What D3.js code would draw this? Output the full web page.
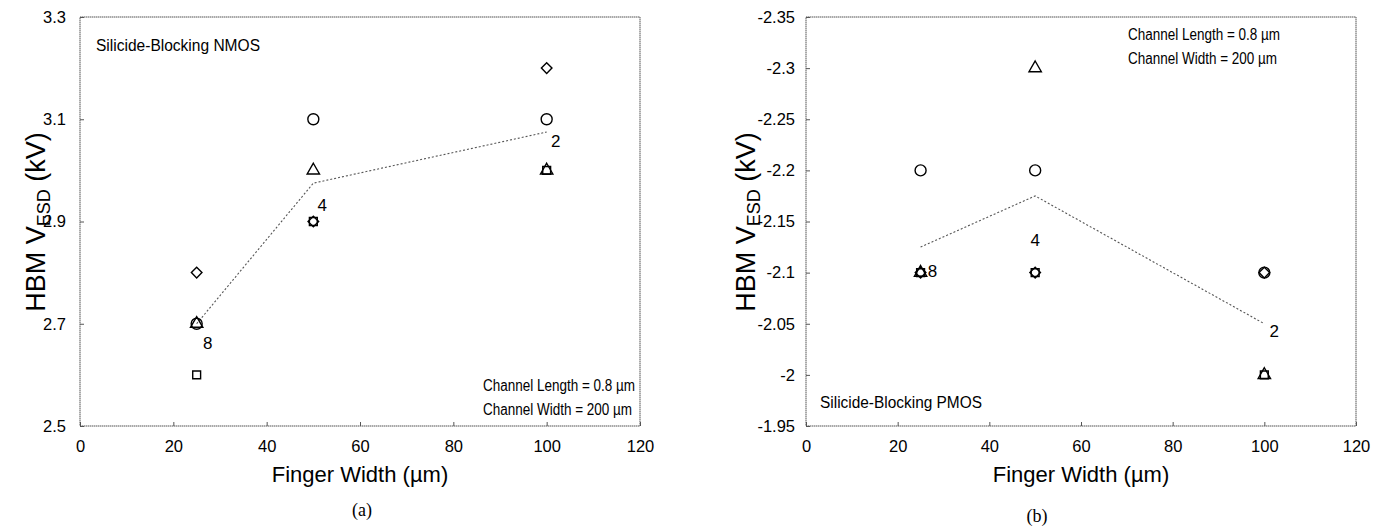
<!DOCTYPE html>
<html><head><meta charset="utf-8">
<script src="https://cdn.jsdelivr.net/npm/d3@7"></script>
<style>
body{margin:0;background:#fff;}
text{font-family:"Liberation Sans",Arial,sans-serif;fill:#000;}
</style></head>
<body><svg id="c" width="1382" height="531"></svg>
<script>
// ---- data ----
const fingerWidths = [25, 50, 100];
const fingerCounts = ["8", "4", "2"];
const xTicks = [0, 20, 40, 60, 80, 100, 120];

const nmosCircle   = [2.7, 3.1, 3.1];
const nmosTriangle = [2.7, 3.0, 3.0];
const nmosDiamond  = [2.8, 2.9, 3.2];
const nmosSquare   = [2.6, 2.9, 3.0];
const nmosMean     = [2.7, 2.975, 3.075];
const nmosYTicks   = [2.5, 2.7, 2.9, 3.1, 3.3];

const pmosCircle   = [-2.2, -2.2, -2.1];
const pmosTriangle = [-2.1, -2.3, -2.0];
const pmosDiamond  = [-2.1, -2.1, -2.1];
const pmosSquare   = [-2.1, -2.1, -2.0];
const pmosMean     = [-2.125, -2.175, -2.05];
const pmosYTicks   = [-1.95, -2, -2.05, -2.1, -2.15, -2.2, -2.25, -2.3, -2.35];

// ---- drawing ----
const svg = d3.select("#c");
svg.append("rect").attr("width",1382).attr("height",531).attr("fill","#fff");

function panel(cfg){
  const x = d3.scaleLinear().domain([0,120]).range([cfg.x0, cfg.x1]);
  const y = d3.scaleLinear().domain(cfg.yDomain).range([426, 17]);
  const g = svg.append("g");
  g.append("rect").attr("x",cfg.x0).attr("y",17).attr("width",cfg.x1-cfg.x0).attr("height",409)
    .attr("fill","none").attr("stroke","#555").attr("stroke-width",1).attr("stroke-dasharray","1.5,0.5");
  const ya = g.append("g").attr("transform",`translate(${cfg.x0},0)`)
    .call(d3.axisLeft(y).tickValues(cfg.yTicks).tickSize(-4).tickPadding(cfg.yPad).tickFormat(d=>String(d)));
  const xa = g.append("g").attr("transform",`translate(0,426)`)
    .call(d3.axisBottom(x).tickValues(xTicks).tickSize(-4).tickPadding(14).tickFormat(d=>String(d)));
  [ya,xa].forEach(a=>{
    a.select(".domain").remove();
    a.selectAll(".tick line").attr("stroke","#555");
    a.selectAll(".tick text").attr("font-size",16.5).attr("font-family","Liberation Sans, Arial, sans-serif").attr("fill","#000");
  });
  g.append("path").datum(cfg.mean.map((v,i)=>[fingerWidths[i],v]))
    .attr("d", d3.line().x(d=>x(d[0])).y(d=>y(d[1])))
    .attr("fill","none").attr("stroke","#555").attr("stroke-width",1.1).attr("stroke-dasharray","2,2");
  const series = [
    {vals:cfg.square,  sym:d3.symbolSquare,  size:62,  rot:0},
    {vals:cfg.diamond, sym:d3.symbolSquare,  size:56,  rot:45},
    {vals:cfg.triangle,sym:d3.symbolTriangle,size:66,  rot:0},
    {vals:cfg.circle,  sym:d3.symbolCircle,  size:95,  rot:0}
  ];
  series.forEach(s=>{
    g.selectAll(null).data(s.vals.map((v,i)=>[fingerWidths[i],v])).enter().append("path")
      .attr("d", d3.symbol().type(s.sym).size(s.size))
      .attr("transform", d=>`translate(${x(d[0])},${y(d[1])}) rotate(${s.rot})`)
      .attr("fill","none").attr("stroke","#000").attr("stroke-width",1.4);
  });
  g.selectAll(null).data(cfg.mean.map((v,i)=>({x:fingerWidths[i],v,lab:fingerCounts[i],o:cfg.labelOff[i]}))).enter()
    .append("text").attr("x",d=>x(d.x)+d.o[0]).attr("y",d=>y(d.v)+d.o[1])
    .attr("font-size",17).attr("text-anchor","middle").attr("dominant-baseline","middle").text(d=>d.lab);
  cfg.notes.forEach(n=>{
    const t = g.append("text").attr("x",n[0]).attr("y",n[1]).attr("font-size",16).text(n[2]);
    if (n[3]) t.attr("textLength",n[3]).attr("lengthAdjust","spacingAndGlyphs");
  });
  const cx = (cfg.x0+cfg.x1)/2;
  g.append("text").attr("x",cx).attr("y",482).attr("text-anchor","middle").attr("font-size",22).text("Finger Width (\u00b5m)");
  const yt = g.append("text").attr("transform",`translate(${cfg.yTitleX},222) rotate(-90)`)
    .attr("text-anchor","middle").attr("font-size",27);
  yt.append("tspan").text("HBM V");
  yt.append("tspan").attr("font-size",18).attr("dy",5).text("ESD");
  yt.append("tspan").attr("dy",-5).text(" (kV)");
  g.append("text").attr("x",cfg.capX).attr("y",cfg.capY).attr("text-anchor","middle")
    .attr("font-size",18).style("font-family","Liberation Serif, Times New Roman, serif").text(cfg.caption);
}

panel({x0:80, x1:640, yDomain:[2.5,3.3], yTicks:nmosYTicks, yPad:14,
  circle:nmosCircle, triangle:nmosTriangle, diamond:nmosDiamond, square:nmosSquare, mean:nmosMean,
  labelOff:[[11,21],[9,23],[9,10]],
  notes:[[96,51,"Silicide-Blocking NMOS",164],[483,391,"Channel Length = 0.8 \u00b5m",152],[483,415,"Channel Width = 200 \u00b5m",149]],
  yTitleX:45, capX:362, capY:516, caption:"(a)"});

panel({x0:806, x1:1356, yDomain:[-1.95,-2.35], yTicks:pmosYTicks, yPad:11,
  circle:pmosCircle, triangle:pmosTriangle, diamond:pmosDiamond, square:pmosSquare, mean:pmosMean,
  labelOff:[[12,25],[0,46],[10,9]],
  notes:[[1128,40,"Channel Length = 0.8 \u00b5m",152],[1128,64,"Channel Width = 200 \u00b5m",149],[820,408,"Silicide-Blocking PMOS",162]],
  yTitleX:755, capX:1037, capY:522, caption:"(b)"});
</script></body></html>
